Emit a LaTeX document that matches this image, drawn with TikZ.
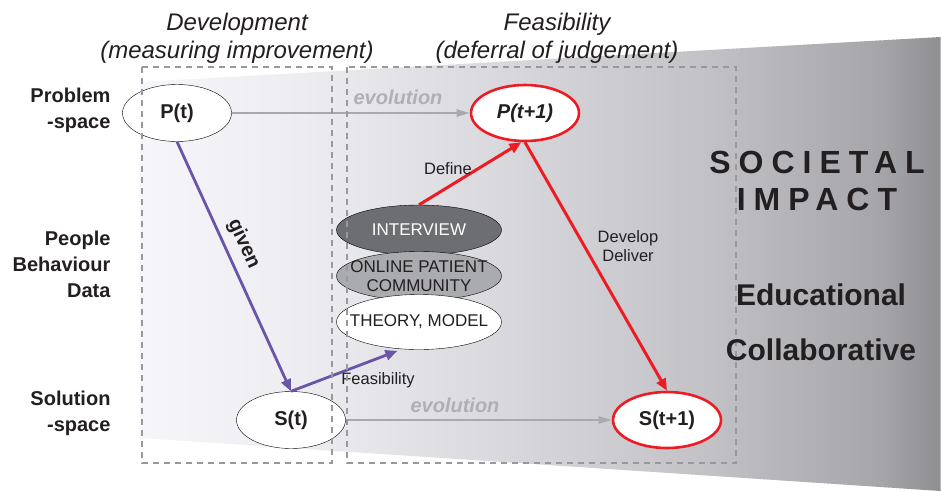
\documentclass[tikz,border=0pt]{standalone}
\usepackage{fontspec}
\setmainfont{Liberation Sans}
\usetikzlibrary{shapes.geometric,arrows.meta}

\definecolor{txt}{HTML}{231F20}
\definecolor{evogray}{HTML}{A7A9AC}
\definecolor{evotext}{HTML}{AEB0B3}
\definecolor{boxdash}{HTML}{98999C}
\definecolor{purp}{HTML}{6A55A8}
\definecolor{redline}{HTML}{ED1C24}
\definecolor{interfill}{HTML}{6D6E71}
\definecolor{onlinefill}{HTML}{A9ABAE}

\begin{document}
\begin{tikzpicture}[x=1pt,y=-1pt,
  sidelabel/.style={anchor=east, align=right, text=txt,
    font=\fontsize{20}{26}\selectfont\bfseries},
  head/.style={align=center, text=txt, font=\fontsize{24}{28}\selectfont\itshape},
  state/.style={ellipse, draw=black, thin, fill=white, inner sep=0pt,
    minimum width=109pt, minimum height=57pt, text=txt,
    font=\fontsize{20}{24}\selectfont\bfseries},
  nextstate/.style={state, draw=redline, line width=2.6pt,
    minimum width=108pt, minimum height=56pt},
  datum/.style={ellipse, draw=black, thin, inner xsep=-14pt, inner ysep=-3pt,
    align=center, minimum width=165pt, minimum height=50pt,
    font=\fontsize{17}{19}\selectfont},
  evo/.style={draw=evogray, line width=2pt, -{Triangle[length=13pt,width=7pt]}},
  evolabel/.style={text=evotext, font=\fontsize{20}{24}\selectfont\bfseries\itshape},
  purparrow/.style={draw=purp, line width=2.8pt, -{Triangle[length=12pt,width=10pt]}},
  redarrow/.style={draw=redline, line width=3pt, -{Triangle[length=12pt,width=10pt]}},
  steplabel/.style={text=txt, font=\fontsize{16.5}{19}\selectfont},
  dashbox/.style={draw=boxdash, line width=1.4pt, dash pattern=on 6pt off 5pt},
  impact/.style={text=txt, font=\fontsize{30}{34}\selectfont\bfseries}
]
\useasboundingbox (0,0) rectangle (941,491);

% grey wedge widening towards societal impact: solid strips, each with its own
% grey level (light on the left, darker on the right)
\foreach \k in {0,...,199}{
  \pgfmathsetmacro\xl{140+4*\k}
  \pgfmathsetmacro\xr{min(\xl+4.7,941)}
  \pgfmathsetmacro\xm{\xl+2}
  \pgfmathsetmacro\tl{82-(\xl-140)/801*45}
  \pgfmathsetmacro\tr{82-(\xr-140)/801*45}
  \pgfmathsetmacro\bl{438+(\xl-140)/801*53}
  \pgfmathsetmacro\br{438+(\xr-140)/801*53}
  \pgfmathsetmacro\g{(\xm<300) ? 0.965-(\xm-140)/160*0.035 :
    ((\xm<500) ? 0.93-(\xm-300)/200*0.079 :
    ((\xm<700) ? 0.851-(\xm-500)/200*0.086 :
    ((\xm<880) ? 0.765-(\xm-700)/180*0.114 : 0.651-(\xm-880)/61*0.09)))}
  \pgfmathsetmacro\gb{min(\g+0.016,1)}
  \definecolor{stripcol}{rgb}{\g,\g,\gb}
  \fill[stripcol] (\xl,\tl) -- (\xr,\tr) -- (\xr,\br) -- (\xl,\bl) -- cycle;
}

% column headings
\node[head] (devhead) at (237,38) {Development\\(measuring improvement)};
\node[head] (feahead) at (557,38) {Feasibility\\(deferral of judgement)};

% row labels
\node[sidelabel] (rowP) at (114,110) {Problem\\-space};
\node[sidelabel] (rowD) at (114,264) {People\\Behaviour\\Data};
\node[sidelabel] (rowS) at (114,413) {Solution\\-space};

% states
\node[state] (Pt) at (177,113) {P(t)};
\node[state] (St) at (291,420) {S(t)};
\node[nextstate, font=\fontsize{20}{24}\selectfont\bfseries\itshape] (Pn) at (525,113) {P(t+1)};
\node[nextstate] (Sn) at (667,420) {S(t+1)};

% sources of evidence
\node[datum, fill=interfill, text=white] (inter) at (419,230) {INTERVIEW};
\node[datum, fill=onlinefill, text=txt, minimum height=49pt] (online) at (419,276) {ONLINE PATIENT\\COMMUNITY};
\node[datum, fill=white, text=txt, minimum height=55pt] (theory) at (419,322) {THEORY, MODEL};

% evolution over time
\draw[evo] (Pt.east) -- (Pn.west);
\draw[evo] (St.east) -- (Sn.west);
\node[evolabel] (evoP) at (398,97) {evolution};
\node[evolabel] (evoS) at (455,405) {evolution};

% development path
\draw[purparrow] (Pt.south) -- node[pos=0.44, sloped, above=4pt, text=txt,
  font=\fontsize{20}{24}\selectfont\bfseries] (givenlbl) {given} (St.north);
\draw[purparrow, shorten >=5pt] (St.north) -- (theory.238);
\node[steplabel] (feaslbl) at (378,380) {Feasibility};

% feasibility path
\draw[redarrow] (inter.north) -- (Pn.263);
\draw[redarrow] (Pn.south) -- (Sn.north);
\node[steplabel] (deflbl) at (448,169) {Define};
\node[steplabel, align=center] (devlbl) at (628,246) {Develop\\Deliver};

% dashed frames
\draw[dashbox] (142,67) rectangle (332,463);
\draw[dashbox] (347,67) rectangle (736,463);

% impact
\node[text=txt, font=\fontsize{32}{37}\selectfont\bfseries\addfontfeature{LetterSpace=25}, align=center]
  (soc) at (817,181) {SOCIETAL\\IMPACT};
\node[impact] (edu) at (821,295) {Educational};
\node[impact] (coll) at (821,350) {Collaborative};
\end{tikzpicture}
\end{document}
